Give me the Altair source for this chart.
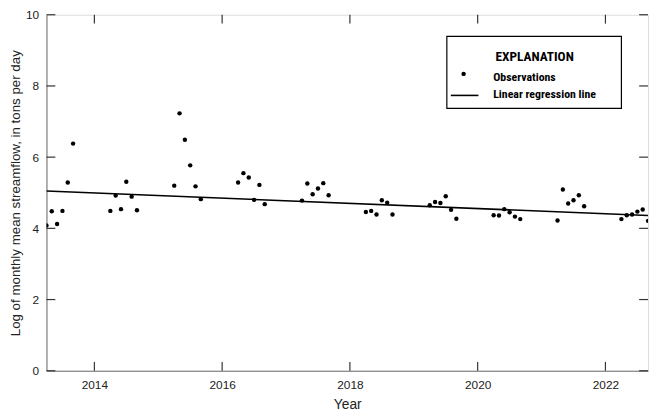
import altair as alt
import pandas as pd

# ---- data ----
years = [2013, 2014, 2015, 2016, 2017, 2018, 2019, 2020, 2021, 2022]
months = [4, 5, 6, 7, 8, 9]
log_load = {
    2013: [4.08, 4.48, 4.12, 4.49, 5.29, 6.38],
    2014: [4.49, 4.92, 4.54, 5.31, 4.89, 4.51],
    2015: [5.20, 7.23, 6.49, 5.77, 5.18, 4.82],
    2016: [5.29, 5.55, 5.43, 4.80, 5.22, 4.68],
    2017: [4.78, 5.26, 4.96, 5.12, 5.27, 4.93],
    2018: [4.46, 4.49, 4.39, 4.79, 4.72, 4.39],
    2019: [4.65, 4.74, 4.71, 4.90, 4.52, 4.27],
    2020: [4.37, 4.36, 4.54, 4.45, 4.33, 4.26],
    2021: [4.22, 5.09, 4.70, 4.79, 4.93, 4.62],
    2022: [4.26, 4.37, 4.39, 4.47, 4.53, 4.21],
}
reg_x = [2013.25, 2022.6667]
reg_y = [5.05, 4.36]
x_ticks = [2014, 2016, 2018, 2020, 2022]
y_ticks = [0, 2, 4, 6, 8, 10]
x_domain = [2013.25, 2022.6667]
y_domain = [0, 10]

rows = []
for yr in years:
    for m, v in zip(months, log_load[yr]):
        rows.append({"t": yr + (m - 1) / 12.0, "v": v})
obs = pd.DataFrame(rows)
reg = pd.DataFrame({"t": reg_x, "v": reg_y})
xt = pd.DataFrame({"t": x_ticks})
yt = pd.DataFrame({"v": y_ticks})

W, H = 610, 361
FONT = "Roboto Condensed"

xs = alt.Scale(domain=x_domain, nice=False, zero=False)
ys = alt.Scale(domain=y_domain, nice=False)

x_axis = alt.Axis(values=x_ticks, format="d", ticks=False, grid=False,
                  labelPadding=9, titlePadding=7, domainColor="#707070",
                  labelFontSize=12, titleFontSize=14, labelColor="#222",
                  titleColor="#222", titleFontWeight="normal")
y_axis = alt.Axis(values=y_ticks, format="d", ticks=False, grid=False,
                  labelPadding=8, titlePadding=3, domainColor="#707070",
                  labelFontSize=12, titleFontSize=13.5, labelColor="#222",
                  titleColor="#222", titleFontWeight="normal")

points = alt.Chart(obs).mark_circle(size=20, color="black", opacity=1, clip=True).encode(
    x=alt.X("t:Q", scale=xs, axis=x_axis, title="Year"),
    y=alt.Y("v:Q", scale=ys, axis=y_axis,
            title="Log of monthly mean streamflow, in tons per day"),
)
line = alt.Chart(reg).mark_line(color="black", strokeWidth=1.6, clip=True).encode(
    x=alt.X("t:Q", scale=xs), y=alt.Y("v:Q", scale=ys)
)

tick_color = "#333"
bottom_ticks = alt.Chart(xt).mark_rule(color=tick_color, strokeWidth=1.2).encode(
    x=alt.X("t:Q", scale=xs), y=alt.value(H), y2=alt.value(H - 9))
top_ticks = alt.Chart(xt).mark_rule(color=tick_color, strokeWidth=1.2).encode(
    x=alt.X("t:Q", scale=xs), y=alt.value(0), y2=alt.value(9))
left_ticks = alt.Chart(yt).mark_rule(color=tick_color, strokeWidth=1.2).encode(
    y=alt.Y("v:Q", scale=ys), x=alt.value(0), x2=alt.value(9))
right_ticks = alt.Chart(yt).mark_rule(color=tick_color, strokeWidth=1.2).encode(
    y=alt.Y("v:Q", scale=ys), x=alt.value(W - 9), x2=alt.value(W))

# ---- explanation box ----
one = pd.DataFrame({"a": [0]})
box = alt.Chart(one).mark_rect(fill="white", stroke="black", strokeWidth=1.2).encode(
    x=alt.value(406), x2=alt.value(583), y=alt.value(22), y2=alt.value(95))
title_txt = alt.Chart(one).mark_text(text="EXPLANATION", font=FONT, fontSize=13.5,
                                     fontWeight="bold", align="center",
                                     baseline="alphabetic", color="black").encode(
    x=alt.value(495), y=alt.value(46.5))
dot = alt.Chart(one).mark_circle(size=20, color="black", opacity=1).encode(
    x=alt.value(423), y=alt.value(60))
obs_txt = alt.Chart(one).mark_text(text="Observations", font=FONT, fontSize=12,
                                   fontWeight="bold", align="left",
                                   baseline="alphabetic", color="black").encode(
    x=alt.value(453), y=alt.value(67.5))
leg_line = alt.Chart(one).mark_rule(color="black", strokeWidth=1.6).encode(
    x=alt.value(410), x2=alt.value(438), y=alt.value(81.8))
reg_txt = alt.Chart(one).mark_text(text="Linear regression line", font=FONT,
                                   fontSize=12, fontWeight="bold", align="left",
                                   baseline="alphabetic", color="black").encode(
    x=alt.value(453), y=alt.value(84.2))

chart = alt.layer(
    line, points, bottom_ticks, top_ticks, left_ticks, right_ticks,
    box, title_txt, dot, obs_txt, leg_line, reg_txt,
).properties(
    width=W, height=H,
    autosize=alt.AutoSizeParams(type="none"),
    padding={"left": 39, "top": 4, "right": 2, "bottom": 40},
).configure_view(
    stroke="black", strokeWidth=1.2
).configure_axis(
    labelFont=FONT, titleFont=FONT
).configure(background="white")

chart.save("out.html", embed_options={"renderer": "svg", "actions": False})
